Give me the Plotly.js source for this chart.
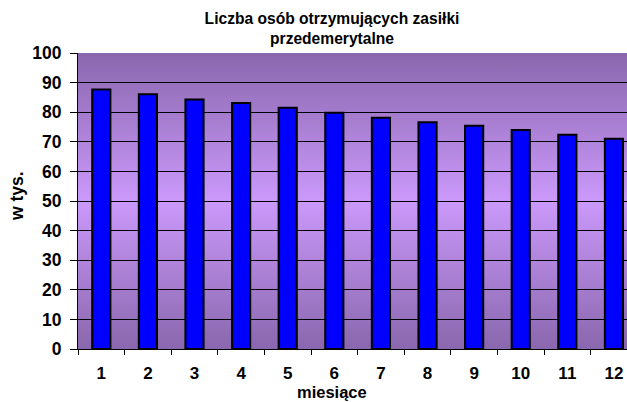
<!DOCTYPE html>
<html>
<head>
<meta charset="utf-8">
<script src="https://cdn.plot.ly/plotly-3.0.1.min.js"></script>
<style>html,body{margin:0;padding:0;background:#fff;}#chart{width:627px;height:402px;}</style>
</head>
<body>
<div id="chart"></div>
<script>
var months = ['1','2','3','4','5','6','7','8','9','10','11','12'];
var values = [87.7, 86.1, 84.3, 83.1, 81.5, 79.8, 78.1, 76.6, 75.4, 74.0, 72.4, 71.0];
var yTicks = [0,10,20,30,40,50,60,70,80,90,100];

var svg = '<svg xmlns="http://www.w3.org/2000/svg" width="100" height="100" preserveAspectRatio="none">' +
  '<defs><linearGradient id="g" x1="0" y1="0" x2="0" y2="1">' +
  '<stop offset="0" stop-color="#8967AD"/><stop offset="0.5" stop-color="#CB99FB"/><stop offset="1" stop-color="#8967AD"/>' +
  '</linearGradient></defs><rect width="100" height="100" fill="url(#g)"/></svg>';
var src = 'data:image/svg+xml;charset=utf-8,' + encodeURIComponent(svg);

var font = 'Arial, "Liberation Sans", sans-serif';

var trace = {
  type: 'bar',
  x: months,
  y: values,
  width: 0.39,
  marker: {color: '#0000FF', line: {color: '#000000', width: 2}},
  hoverinfo: 'x+y'
};

var layout = {
  width: 627, height: 402,
  margin: {l: 78, r: 0, t: 53, b: 53},
  paper_bgcolor: '#ffffff',
  plot_bgcolor: 'rgba(0,0,0,0)',
  showlegend: false,
  title: {
    text: 'Liczba osób otrzymujących zasiłki<br>przedemerytalne',
    font: {family: font, size: 15.6, color: '#000', weight: 700},
    x: 332/627, xanchor: 'center', xref: 'container',
    y: 1 - 24/402, yanchor: 'middle', yref: 'container'
  },
  xaxis: {
    type: 'category',
    range: [-0.5, 11.28],
    showgrid: false,
    showline: true, linecolor: '#000', linewidth: 1,
    ticks: 'outside', tickson: 'boundaries', ticklen: 5, tickcolor: '#000',
    tickfont: {family: font, size: 17, color: '#000', weight: 700},
    ticklabelstandoff: 9,
    fixedrange: true
  },
  yaxis: {
    range: [0, 100],
    tickvals: yTicks,
    showgrid: true, gridcolor: '#000', gridwidth: 1,
    showline: true, linecolor: '#000', linewidth: 1,
    ticks: 'outside', ticklen: 7, tickcolor: '#000',
    tickfont: {family: font, size: 17.5, color: '#000', weight: 700},
    ticklabelstandoff: 5,
    zeroline: false,
    fixedrange: true
  },
  images: [{
    source: src, xref: 'x domain', yref: 'y domain',
    x: 0, y: 1, sizex: 1, sizey: 1, sizing: 'stretch',
    xanchor: 'left', yanchor: 'top', layer: 'below'
  }],
  annotations: [
    {text: 'miesiące', xref: 'paper', yref: 'paper', x: (332-78)/549, y: -(401.5-349)/296,
     xanchor: 'center', yanchor: 'bottom', showarrow: false, borderpad: 0,
     font: {family: font, size: 16.5, color: '#000', weight: 700}},
    {text: 'w tys.', xref: 'paper', yref: 'paper', x: -(78-17)/549, y: (349-196)/296,
     xanchor: 'center', yanchor: 'middle', showarrow: false, textangle: -90,
     font: {family: font, size: 17.5, color: '#000', weight: 700}}
  ]
};

Plotly.newPlot('chart', [trace], layout, {displayModeBar: false, staticPlot: true});
</script>
</body>
</html>
